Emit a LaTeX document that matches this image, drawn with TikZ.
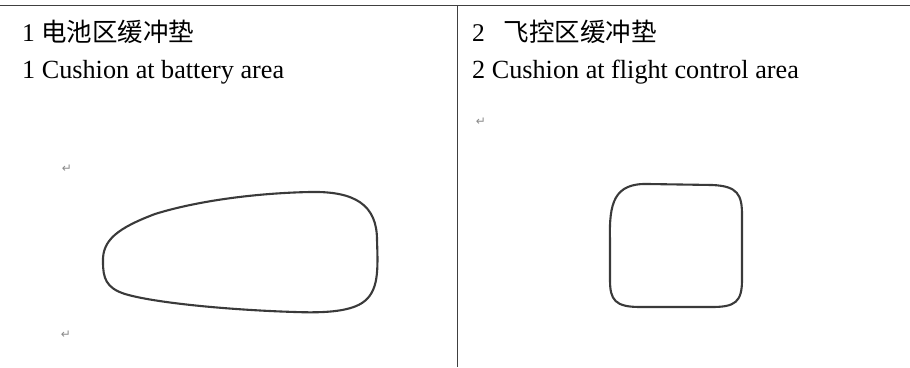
\documentclass[tikz,border=0pt]{standalone}
\usepackage{fontspec}
\setmainfont{Liberation Serif}
\newfontfamily\cjk{Noto Sans CJK SC}
\newfontfamily\dejavu{DejaVu Sans}
\definecolor{rule}{HTML}{404040}
\definecolor{outline}{HTML}{3A3A3A}
\definecolor{mark}{HTML}{8A8A8A}
\begin{document}
\begin{tikzpicture}[x=1pt,y=-1pt,
  label/.style={anchor=base west,inner sep=0pt,font=\fontsize{26.2}{30}\selectfont},
  clabel/.style={anchor=base west,inner sep=0pt,font=\fontsize{25.5}{30}\selectfont},
  retmark/.style={anchor=center,inner sep=0pt,text=mark,font=\dejavu\fontsize{12}{13}\selectfont},
  cushion/.style={draw=outline,line width=2.1pt}]
\useasboundingbox (0,0) rectangle (910,367);
% table rules
\coordinate (tl) at (0,5);
\coordinate (tr) at (910,5);
\coordinate (mt) at (457,5);
\coordinate (mb) at (457,367);
\draw[rule,line width=1pt] (tl) -- (tr);
\draw[rule,line width=1pt] (mt) -- (mb);
% texts
\node[clabel] (c1) at (22,41) {1 {\cjk 电池区缓冲垫}};
\node[label] (e1) at (22,78) {1 Cushion at battery area};
\node[clabel] (c2) at (472,41) {2\hspace{19pt}{\cjk 飞控区缓冲垫}};
\node[label] (e2) at (472,78) {2 Cushion at flight control area};
\node[retmark] (r1) at (67,169) {↵};
\node[retmark] (r2) at (66,335) {↵};
\node[retmark] (r3) at (481,122) {↵};
% battery cushion
\draw[cushion] (103,262) .. controls (102,240) and (118,228) .. (155,214)
  .. controls (200,200) and (260,193) .. (310,192)
  .. controls (355,191) and (377,205) .. (377,240)
  .. controls (378,270) and (379,292) .. (362,303)
  .. controls (348,312) and (322,313) .. (295,312)
  .. controls (230,310) and (155,303) .. (125,294)
  .. controls (106,288) and (103,278) .. (103,262) -- cycle;
% flight control cushion
\draw[cushion] (610,240) .. controls (609,203) and (614,183) .. (648,184)
  -- (712,185)
  .. controls (738,186) and (742,195) .. (742,215)
  -- (742,280)
  .. controls (742,302) and (735,307) .. (712,307)
  -- (640,307)
  .. controls (615,307) and (610,300) .. (610,280) -- cycle;
\end{tikzpicture}
\end{document}
